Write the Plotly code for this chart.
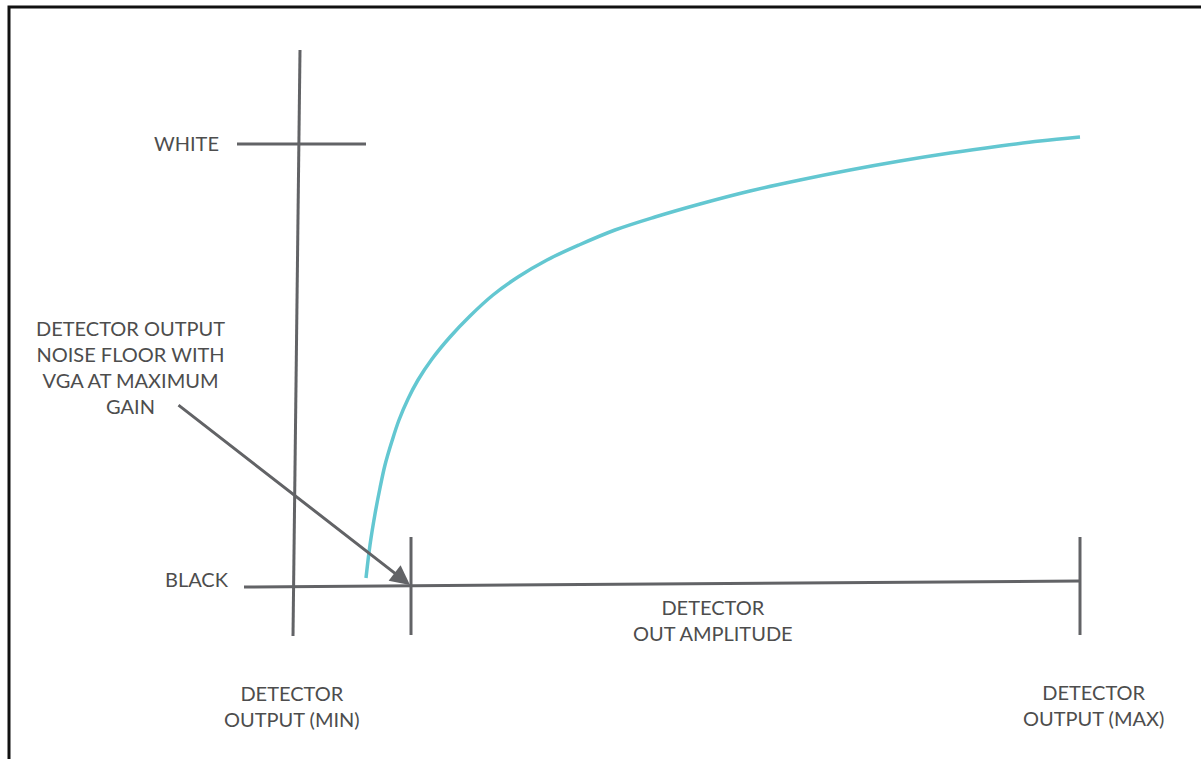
import plotly.graph_objects as go

# pixel-like coordinate system (y grows downward)
W, H = 1201, 759

# transfer curve (detector out amplitude -> video level)
curve_x = [366, 370, 375, 380, 385, 392, 399, 408, 418, 432, 450, 470, 493,
           518, 547, 579, 615, 655, 700, 750, 800, 850, 900, 950, 1000, 1040,
           1080]
curve_y = [578, 545, 514, 488, 465, 441, 420, 399, 380, 359, 337, 316, 295,
           277, 260, 245, 230, 217, 204, 191, 180, 170, 161, 153, 146, 141,
           137]

# axis skeleton segments (x pairs, y pairs)
vaxis_x = [300, 293]
vaxis_y = [50, 636]
white_tick_x = [237, 366]
white_tick_y = [144, 144]
baseline_x = [244, 1080]
baseline_y = [587, 581]
min_tick_x = [411, 411]
min_tick_y = [537, 635]
max_tick_x = [1080, 1080]
max_tick_y = [537, 635]

# frame edges (top and left visible)
frame_x = [W, 9, 9]
frame_y = [7, 7, H]

# noise floor arrow
arrow_tail = (177, 404)
arrow_head = (410, 585)

labels = ["WHITE", "BLACK",
          "DETECTOR OUTPUT<br>NOISE FLOOR WITH<br>VGA AT MAXIMUM<br>GAIN",
          "DETECTOR<br>OUT AMPLITUDE",
          "DETECTOR<br>OUTPUT (MIN)",
          "DETECTOR<br>OUTPUT (MAX)"]
label_x = [221, 231, 130, 713, 292, 1093]
label_y = [143, 579, 367, 620, 706, 705]
label_anchor = ["right", "right", "center", "center", "center", "center"]

GREY = "#626366"
TEXT = "#4d4d4d"
CYAN = "#63c7d1"

fig = go.Figure()

for xs, ys in [(vaxis_x, vaxis_y), (white_tick_x, white_tick_y),
               (baseline_x, baseline_y), (min_tick_x, min_tick_y),
               (max_tick_x, max_tick_y)]:
    fig.add_trace(go.Scatter(x=xs, y=ys, mode="lines",
                             line=dict(color=GREY, width=3),
                             hoverinfo="skip"))

fig.add_trace(go.Scatter(x=frame_x, y=frame_y, mode="lines",
                         line=dict(color="#111111", width=3),
                         hoverinfo="skip"))

fig.add_trace(go.Scatter(x=curve_x, y=curve_y, mode="lines",
                         line=dict(color=CYAN, width=3.5, shape="spline",
                                   smoothing=1),
                         name="Transfer"))

fig.add_annotation(x=arrow_head[0], y=arrow_head[1],
                   ax=arrow_tail[0], ay=arrow_tail[1],
                   xref="x", yref="y", axref="x", ayref="y",
                   text="", showarrow=True, arrowhead=2, arrowsize=1.3,
                   arrowwidth=3, arrowcolor=GREY)

for t, x, y, a in zip(labels, label_x, label_y, label_anchor):
    fig.add_annotation(x=x, y=y, text=t, showarrow=False, xanchor=a,
                       yanchor="middle", align="center",
                       font=dict(family="Lato", size=20, color=TEXT))

fig.update_xaxes(range=[0, W], visible=False, fixedrange=True)
fig.update_yaxes(range=[H, 0], visible=False, fixedrange=True)
fig.update_layout(
    width=W, height=H,
    margin=dict(l=0, r=0, t=0, b=0),
    paper_bgcolor="white",
    plot_bgcolor="white",
    showlegend=False,
)

# drop the default body margin so the figure sits at the window origin
fig.write_html("out.html", config={"displayModeBar": False},
               post_script="document.body.style.margin='0';")
